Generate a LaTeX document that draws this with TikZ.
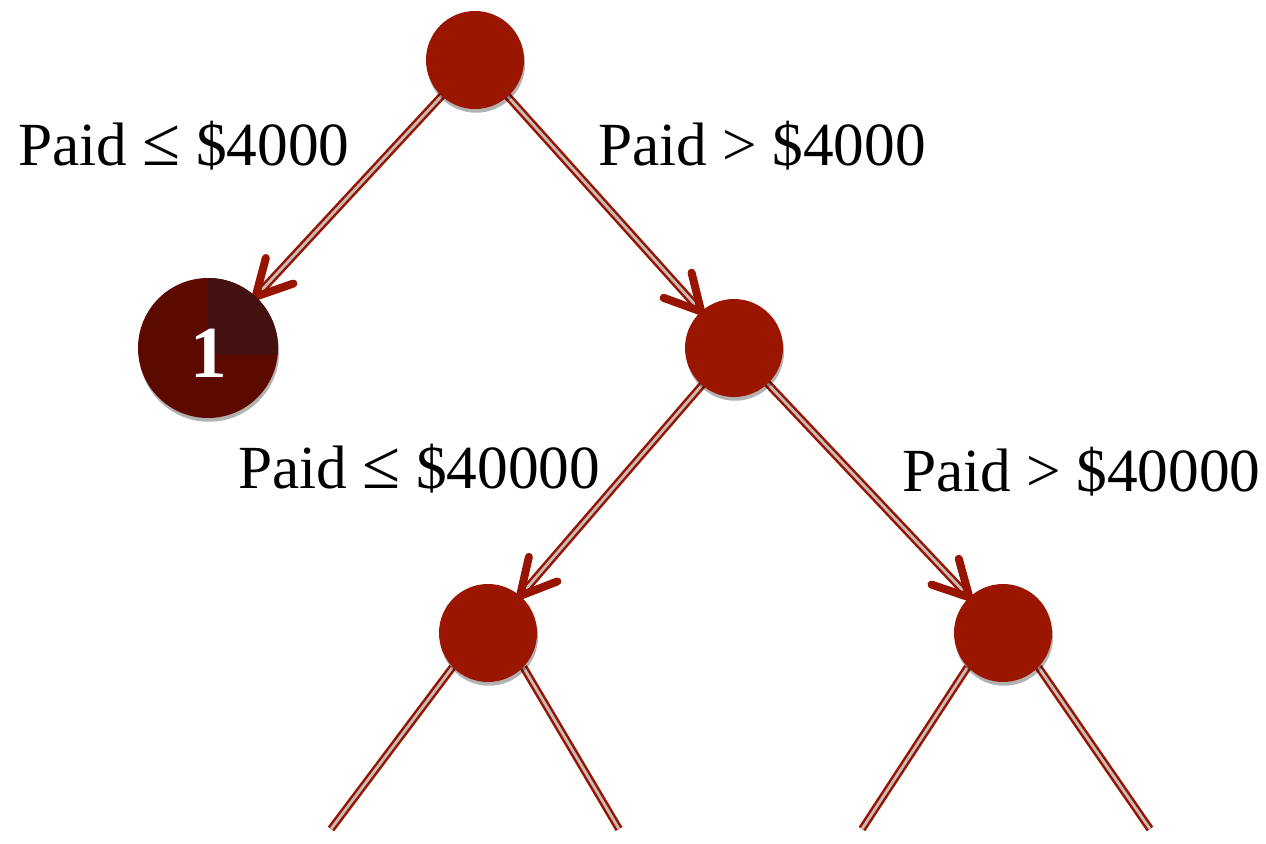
\documentclass[tikz,border=0pt]{standalone}
\usepackage{fontspec}
\setmainfont{Liberation Serif}
\usetikzlibrary{calc,shadows,backgrounds}
\definecolor{nodered}{RGB}{154,22,0}
\definecolor{edgered}{RGB}{150,20,0}
\definecolor{leafred}{RGB}{92,10,0}
\definecolor{leafdark}{RGB}{68,17,17}
\definecolor{edgegray}{RGB}{200,188,186}
\newcommand\bigleq{{\fontsize{52}{60}\selectfont ≤}}
\tikzset{
  nodeshadow/.style={drop shadow={shadow xshift=0.8pt, shadow yshift=-2.8pt, opacity=0.3, fill=black}},
  treenode/.style={circle, fill=nodered, minimum size=73.5pt, inner sep=0pt, nodeshadow},
  leafnode/.style={circle, fill=leafred, minimum size=105pt, inner sep=0pt, nodeshadow},
  leaftext/.style={inner sep=0pt, text=white, font=\fontsize{55}{60}\selectfont\bfseries},
  dbl/.style={draw=edgered, line width=1.9pt, double=edgegray, double distance=2.1pt},
  barb/.style={draw=edgered, line width=6pt, line cap=round, line join=round},
  lbl/.style={inner sep=0pt, anchor=base west, font=\fontsize{46}{54}\selectfont},
}
\newcommand\treearrow[4]{%
  \coordinate (s) at ($(#1)!#3!(#2)$);
  \coordinate (t) at ($(#2)!#4!(#1)$);
  \draw[dbl] (s) -- ($(t)!4pt!(s)$);
  \draw[barb] ($(t)!30pt!28:(s)$) -- (t) -- ($(t)!30pt!-28:(s)$);
}
\begin{document}
\begin{tikzpicture}[x=0.75pt,y=-0.75pt]
\useasboundingbox (0,0) rectangle (1266,843);
% nodes
\node[treenode] (top) at (475,60) {};
\node[leafnode] (leaf) at (208,348) {};
\begin{scope}
  \clip (208,348) circle (52.5pt);
  \fill[leafdark] (208,355) rectangle (290,270);
\end{scope}
\node[leaftext] (one) at (209,353) {1};
\node[treenode] (mid) at (734,348) {};
\node[treenode] (bl) at (488,633) {};
\node[treenode] (br) at (1003,633) {};
% free ends
\coordinate (e1) at (331,829);
\coordinate (e2) at (619,829);
\coordinate (e3) at (862,829);
\coordinate (e4) at (1150,829);
% edges
\begin{scope}[on background layer]
  \treearrow{top}{leaf}{34pt}{52.5pt}
  \treearrow{top}{mid}{34pt}{36.75pt}
  \treearrow{mid}{bl}{34pt}{36.75pt}
  \treearrow{mid}{br}{34pt}{36.75pt}
  \draw[dbl] (bl.224) -- (e1);
  \draw[dbl] (bl.316) -- (e2);
  \draw[dbl] (br.224) -- (e3);
  \draw[dbl] (br.316) -- (e4);
\end{scope}
% labels
\node[lbl] (l1) at (18,165) {Paid \bigleq{} \$4000};
\node[lbl] (l2) at (598,165) {Paid > \$4000};
\node[lbl] (l3) at (238,488) {Paid \bigleq{} \$40000};
\node[lbl] (l4) at (902,491) {Paid > \$40000};
\end{tikzpicture}
\end{document}
